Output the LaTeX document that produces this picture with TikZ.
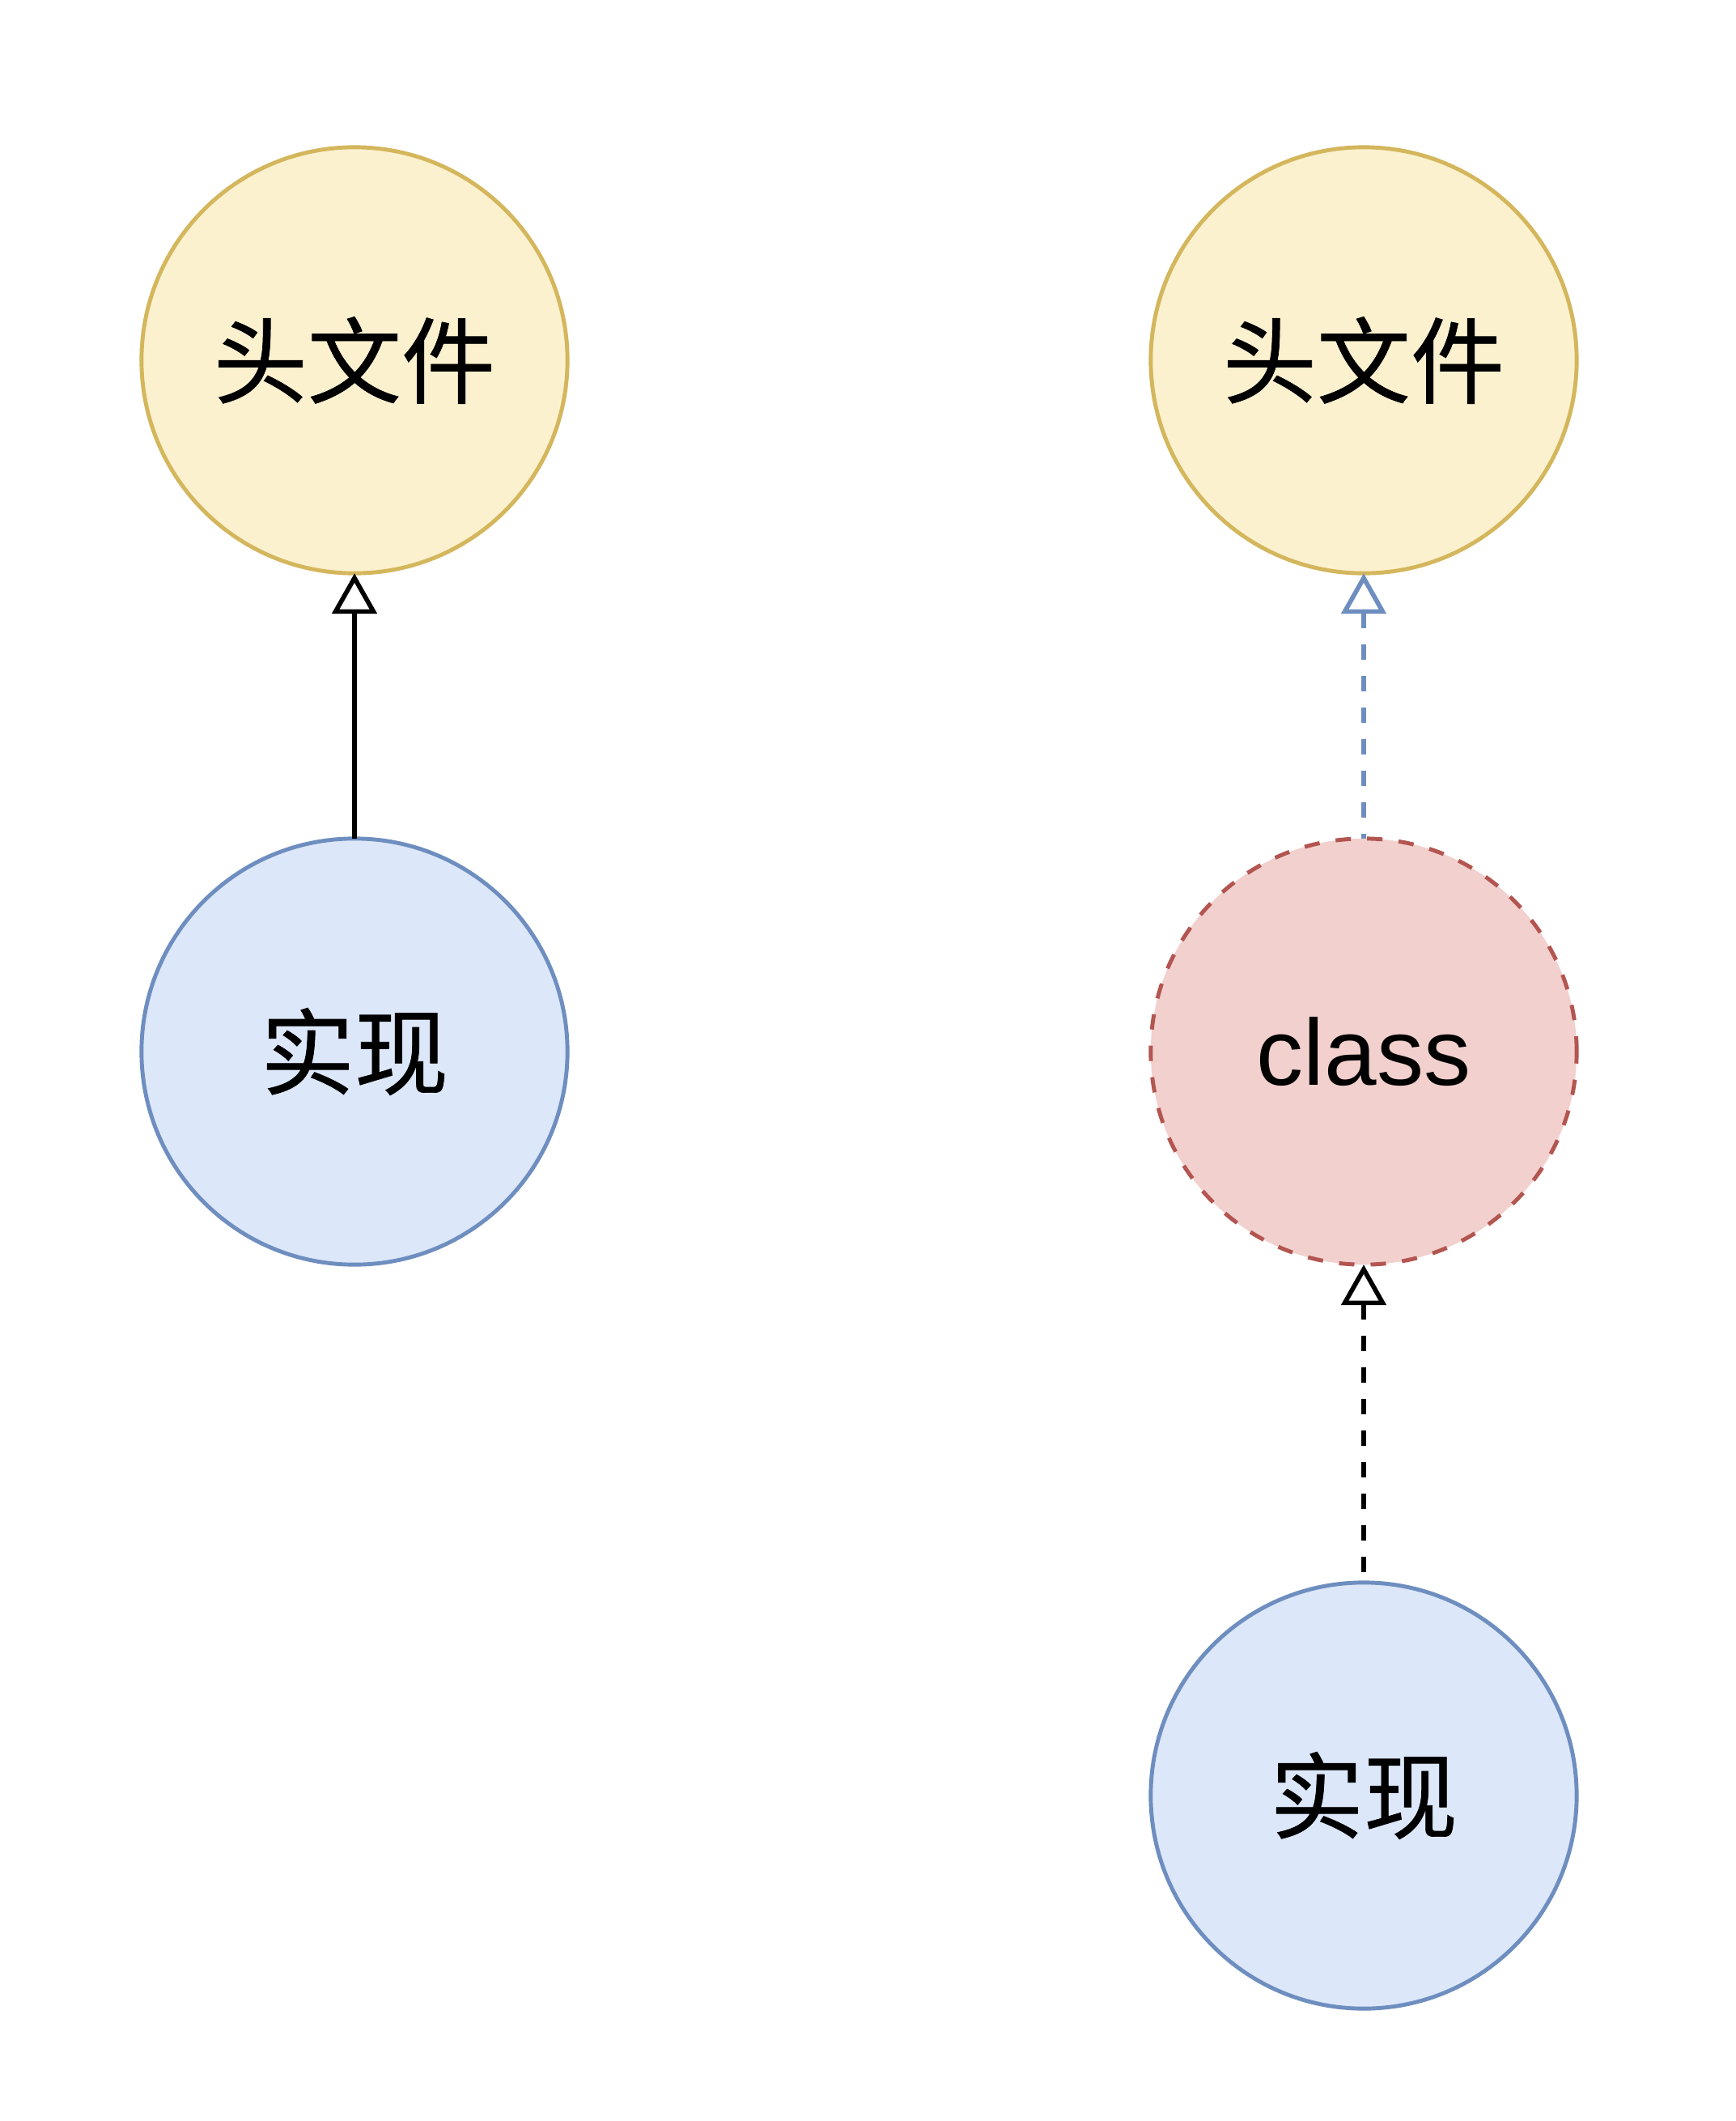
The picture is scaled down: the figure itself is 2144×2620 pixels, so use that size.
\documentclass[tikz,border=0pt]{standalone}
\usepackage{fontspec}
\setmainfont{Liberation Sans}
\newfontfamily\cjk[FakeBold=0.6]{Noto Sans CJK SC}
\usetikzlibrary{arrows.meta}
\definecolor{yfill}{HTML}{FCF1CF}
\definecolor{ystroke}{HTML}{D4B65C}
\definecolor{bfill}{HTML}{DCE7F9}
\definecolor{bstroke}{HTML}{6E8EC0}
\definecolor{rfill}{HTML}{F2D0CE}
\definecolor{rstroke}{HTML}{B35550}
\begin{document}
\begin{tikzpicture}[x=0.01cm,y=-0.01cm,
  circ/.style={circle, minimum size=5.26cm, inner sep=0pt, outer sep=0pt, line width=1.4pt, font=\fontsize{33}{40}\selectfont},
  hdr/.style={circ, draw=ystroke, fill=yfill},
  impl/.style={circ, draw=bstroke, fill=bfill},
  cls/.style={circ, draw=rstroke, fill=rfill, dash pattern=on 0.19cm off 0.2cm},
  inh/.style={line width=1.6pt, {Triangle[open,length=0.5cm,width=0.55cm]}-},
  dashline/.style={dash pattern=on 0.19cm off 0.2cm}
]
\fill[white] (0,0) rectangle (2144,2620);
\useasboundingbox (0,0) rectangle (2144,2620);
\node[hdr] (h1) at (438,445) {\cjk 头文件};
\node[impl] (i1) at (438,1299) {\cjk 实现};
\node[hdr] (h2) at (1685,445) {\cjk 头文件};
\node[cls] (c) at (1685,1299) {class};
\node[impl] (i2) at (1685,2218) {\cjk 实现};
\draw[inh] (h1) -- (i1);
\draw[inh, draw=bstroke, dashline] (h2) -- (c);
\draw[inh, dashline] (c) -- (i2);
\end{tikzpicture}
\end{document}
